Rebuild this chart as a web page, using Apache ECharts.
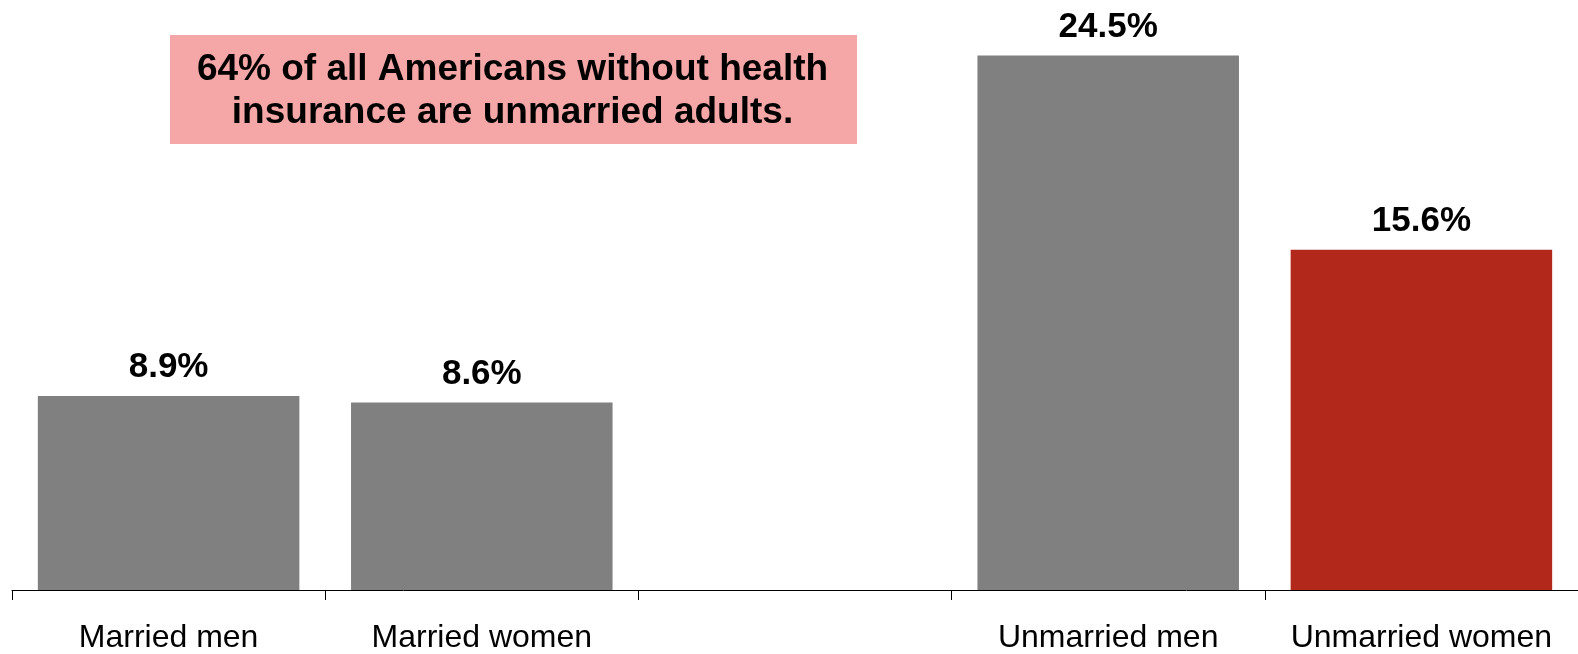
<!DOCTYPE html>
<html>
<head>
<meta charset="utf-8">
<script src="https://cdn.jsdelivr.net/npm/echarts@6/dist/echarts.min.js"></script>
<style>
html,body{margin:0;padding:0;background:#fff;}
#chart{width:1578px;height:654px;}
</style>
</head>
<body>
<div id="chart"></div>
<script>
const categories = ['Married men', 'Married women', '', 'Unmarried men', 'Unmarried women'];
const values = [8.9, 8.6, null, 24.5, 15.6];
const barColors = ['#808080', '#808080', '#808080', '#808080', '#b2281b'];
const noteLines = ['64% of all Americans without health', 'insurance are unmarried adults.'];

const chart = echarts.init(document.getElementById('chart'), null, {renderer: 'canvas'});
const font = "'Liberation Sans', Arial, Helvetica, sans-serif";

chart.setOption({
  animation: false,
  backgroundColor: '#ffffff',
  grid: {left: 12, right: -2, top: 0, bottom: 58, containLabel: false},
  xAxis: {
    type: 'category',
    data: categories,
    boundaryGap: true,
    axisLine: {show: true, lineStyle: {color: '#000', width: 1}},
    axisTick: {show: true, inside: false, length: 10, alignWithLabel: false, lineStyle: {color: '#000', width: 1}},
    axisLabel: {show: true, interval: 0, margin: 32, color: '#000', fontSize: 32, fontFamily: font, verticalAlign: 'top'},
    splitLine: {show: false}
  },
  yAxis: {
    type: 'value', min: 0, max: 27.05, show: false,
    splitLine: {show: false}
  },
  series: [{
    type: 'bar',
    data: values.map((v, i) => ({value: v, itemStyle: {color: barColors[i]}})),
    barWidth: '83.5%',
    label: {
      show: true, position: 'top', distance: 11,
      formatter: p => p.value.toFixed(1) + '%',
      color: '#000', fontSize: 35, fontWeight: 'bold', fontFamily: font
    }
  }],
  graphic: [
    {type: 'rect', left: 170, top: 35, shape: {width: 687, height: 109}, style: {fill: '#f4a7a6'}, z: 10},
    {type: 'text', z: 11, style: {
      text: noteLines[0], x: 512.5, y: 69.5, align: 'center', verticalAlign: 'middle',
      font: "bold 37px 'Liberation Sans', Arial, sans-serif", fill: '#000'
    }},
    {type: 'text', z: 11, style: {
      text: noteLines[1], x: 512.5, y: 113, align: 'center', verticalAlign: 'middle',
      font: "bold 37px 'Liberation Sans', Arial, sans-serif", fill: '#000'
    }}
  ]
});
</script>
</body>
</html>
